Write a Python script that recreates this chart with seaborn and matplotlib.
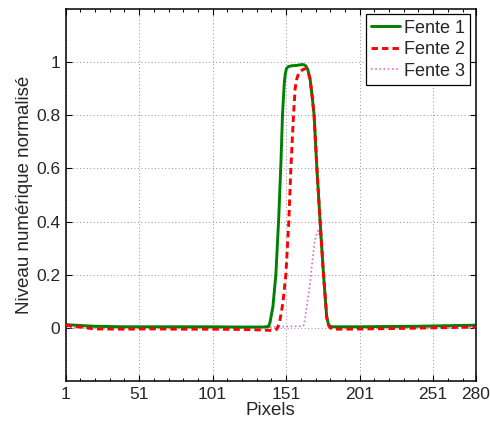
import numpy as np
import pandas as pd
import matplotlib
matplotlib.use("Agg")
import matplotlib.pyplot as plt
import seaborn as sns
from matplotlib.ticker import FixedLocator

# values
x_f1 = [1, 20, 40, 60, 80, 100, 120, 135, 139, 140, 142, 144, 146, 147.5, 148.5, 149.7,
        150.4, 151.2, 152.5, 155, 158, 161, 163, 164.5, 165.8, 167.3, 168.7, 170,
        171.9, 174.1, 176.4, 178.6, 179.8, 180.9, 183, 200, 220, 240, 260, 280]
y_f1 = [0.012, 0.006, 0.004, 0.004, 0.004, 0.004, 0.003, 0.003, 0.005, 0.02, 0.08, 0.2,
        0.42, 0.63, 0.8, 0.92, 0.955, 0.975, 0.983, 0.986, 0.987, 0.99, 0.99, 0.985,
        0.97, 0.935, 0.87, 0.8, 0.6, 0.4, 0.2, 0.04, 0.013, 0.005, 0.004, 0.004, 0.005,
        0.006, 0.008, 0.01]

x_f2 = [1, 10, 20, 40, 60, 80, 100, 120, 135, 141, 144.7, 146.5, 148.7, 150.8, 152.8,
        154.2, 156, 157.1, 158.3, 159.4, 161, 162.8, 164.5, 166, 167.3, 168.7, 170,
        171.9, 174.1, 176.4, 178.6, 179.8, 180.9, 183, 190, 220, 250, 280]
y_f2 = [0.01, 0.004, -0.004, -0.005, -0.004, -0.005, -0.005, -0.006, -0.008, -0.01,
        -0.005, 0.02, 0.09, 0.2, 0.4, 0.6, 0.8, 0.9, 0.938, 0.955, 0.966, 0.973, 0.975,
        0.962, 0.935, 0.87, 0.8, 0.6, 0.4, 0.2, 0.04, 0.01, 0.0, -0.005, -0.005, -0.003,
        0.0, 0.003]

x_f3 = [1, 40, 80, 120, 138, 150, 162, 163, 164, 165.5, 167.3, 169, 170.5, 172, 173,
        174.5, 176.4, 178.6, 181, 190, 240, 280]
y_f3 = [0.0, 0.0, 0.0, 0.0, 0.002, 0.005, 0.006, 0.01, 0.04, 0.1, 0.17, 0.26, 0.33,
        0.36, 0.366, 0.33, 0.2, 0.04, 0.005, 0.0, 0.0, 0.0]

series_names = ["Fente 1", "Fente 2", "Fente 3"]
x_ticks = [1, 51, 101, 151, 201, 251, 280]
y_ticks = [0, 0.2, 0.4, 0.6, 0.8, 1]
y_tick_labels = ["0", "0.2", "0.4", "0.6", "0.8", "1"]

sns.set_style("white")
plt.rcParams["font.family"] = ["Liberation Sans", "DejaVu Sans"]

fig, ax = plt.subplots(figsize=(4.9, 4.21), dpi=100)
fig.subplots_adjust(left=0.134, right=0.971, top=0.979, bottom=0.095)

df1 = pd.DataFrame({"x": x_f1, "y": y_f1})
df2 = pd.DataFrame({"x": x_f2, "y": y_f2})
df3 = pd.DataFrame({"x": x_f3, "y": y_f3})

sns.lineplot(data=df1, x="x", y="y", ax=ax, color="#008000", lw=2.1,
             label=series_names[0], estimator=None, sort=False, zorder=2)
sns.lineplot(data=df2, x="x", y="y", ax=ax, color="#ff0000", lw=2.1,
             label=series_names[1], estimator=None, sort=False, zorder=3)
ax.lines[-1].set_dashes((2.2, 1.4))
sns.lineplot(data=df3, x="x", y="y", ax=ax, color="#d46fd4", lw=1.2,
             label=series_names[2], estimator=None, sort=False, zorder=1.5)
ax.lines[-1].set_dashes((1, 1.5))

ax.set_xlim(1, 280)
ax.set_ylim(-0.2, 1.2)
ax.xaxis.set_major_locator(FixedLocator(x_ticks))
ax.xaxis.set_minor_locator(FixedLocator(list(range(11, 280, 10))))
ax.set_yticks(y_ticks)
ax.set_yticklabels(y_tick_labels)

ax.grid(True, which="major", color="#909090", lw=0.7, ls=(0, (1, 2.5)))
ax.tick_params(which="both", direction="in", top=True, right=True,
               bottom=True, left=True, labelsize=12.5, color="black")
ax.tick_params(which="major", length=4.5, width=0.8, pad=4)
ax.tick_params(which="minor", length=2.5, width=0.7)
for s in ax.spines.values():
    s.set_color("black")
    s.set_linewidth(1.1)

ax.set_xlabel("Pixels", fontsize=13.5, labelpad=0)
ax.set_ylabel("Niveau numérique normalisé", fontsize=13.5, labelpad=2)

leg = ax.legend(loc="upper right", fontsize=13, frameon=True, fancybox=False,
                edgecolor="black", framealpha=1, borderaxespad=0.3,
                handlelength=1.6, handletextpad=0.2, labelspacing=0.25,
                borderpad=0.3)
leg.get_frame().set_linewidth(0.9)

fig.savefig("out.png", dpi=100)
